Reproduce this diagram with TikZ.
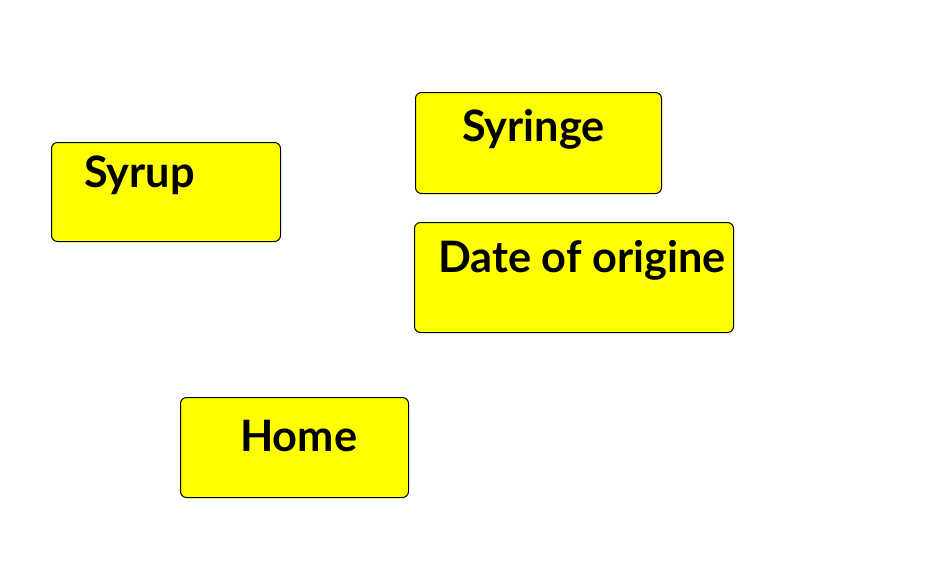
\documentclass[tikz,border=0pt]{standalone}
\usepackage{fontspec}
\setmainfont{Lato}
\definecolor{boxyellow}{RGB}{255,255,0}
\tikzset{
  box/.style={draw=black, line width=1pt, fill=boxyellow, rounded corners=6pt,
    anchor=north west, inner sep=0pt},
  lbl/.style={anchor=base west, inner sep=0pt,
    font=\fontsize{43.3}{50}\selectfont\bfseries}
}
\begin{document}
\begin{tikzpicture}[x=1pt,y=-1pt]
   \useasboundingbox (0,0) rectangle (945,566);
   % boxes
   \node[box, minimum width=229pt, minimum height=99pt] (syrup) at (51,142) {};
   \node[box, minimum width=246pt, minimum height=101pt] (syringe) at (415,92) {};
   \node[box, minimum width=319pt, minimum height=110pt] (date) at (414,222) {};
   \node[box, minimum width=228pt, minimum height=100pt] (home) at (180,397) {};
   % labels
   \node[lbl] (syrup text) at (84,187) {Syrup};
   \node[lbl] (syringe text) at (462,141) {Syringe};
   \node[lbl] (date text) at (438,272) {Date of origine};
   \node[lbl] (home text) at (240,451) {Home};
\end{tikzpicture}
\end{document}
